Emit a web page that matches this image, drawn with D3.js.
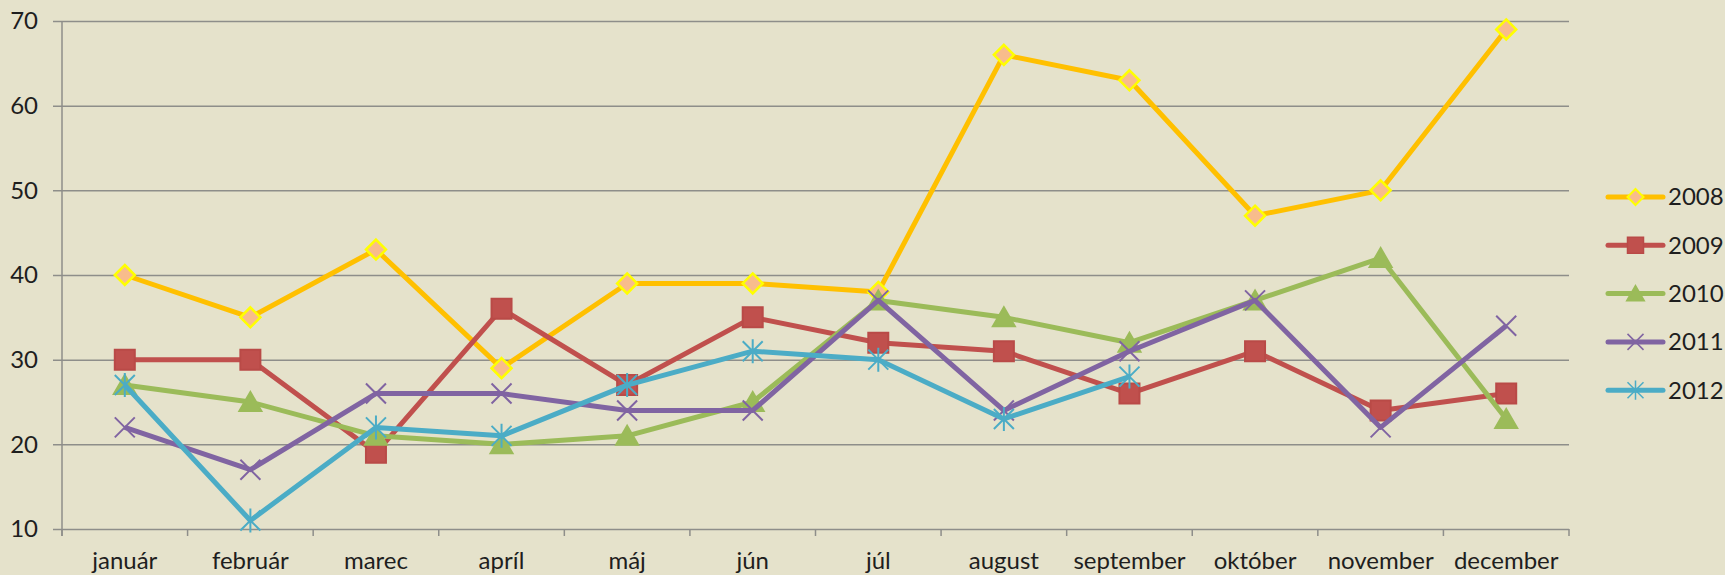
<!DOCTYPE html>
<html>
<head>
<meta charset="utf-8">
<script src="https://cdn.jsdelivr.net/npm/d3@7"></script>
<style>
  html, body { margin: 0; padding: 0; background: #e5e2cb; }
  svg { display: block; }
  .grid line { stroke: #8e8e8a; stroke-width: 1.5; }
  .grid text, .xaxis text, .legend text {
    fill: #1e1e1e; font-size: 24px; font-family: Lato, "Open Sans", sans-serif;
  }
</style>
</head>
<body>
<svg id="chart"></svg>
<script>
var months = ["január", "február", "marec", "apríl", "máj", "jún", "júl",
              "august", "september", "október", "november", "december"];
var years = ["2008", "2009", "2010", "2011", "2012"];
var yTicks = [10, 20, 30, 40, 50, 60, 70];

var v2008 = [40, 35, 43, 29, 39, 39, 38, 66, 63, 47, 50, 69];
var v2009 = [30, 30, 19, 36, 27, 35, 32, 31, 26, 31, 24, 26];
var v2010 = [27, 25, 21, 20, 21, 25, 37, 35, 32, 37, 42, 23];
var v2011 = [22, 17, 26, 26, 24, 24, 37, 24, 31, 37, 22, 34];
var v2012 = [27, 11, 22, 21, 27, 31, 30, 23, 28, null, null, null];

var seriesValues = [v2008, v2009, v2010, v2011, v2012];

// colours and marker kind per year (Office palette)
var styles = [
  {line: "#ffc000", marker: "diamond", fill: "#f8bc8c", stroke: "#ffff00"},
  {line: "#c0504d", marker: "square", fill: "#c0504d", stroke: "#b94a47"},
  {line: "#9bbb59", marker: "triangle", fill: "#9bbb59", stroke: "#9bbb59"},
  {line: "#8064a2", marker: "cross", fill: "none", stroke: "#8064a2"},
  {line: "#4bacc6", marker: "star", fill: "none", stroke: "#4bacc6"}
];

var W = 1725, H = 575;
var margin = {top: 21, right: 156, bottom: 46, left: 62};

var svg = d3.select("#chart").attr("width", W).attr("height", H);

var x = d3.scaleBand().domain(months).range([margin.left, W - margin.right]);
var y = d3.scaleLinear().domain([10, 70]).range([H - margin.bottom, margin.top]);

// marker shapes, r = half size in px
var markerPath = function(kind, r) {
  var p = d3.path();
  if (kind == "diamond") {
    p.moveTo(0, -r); p.lineTo(r, 0); p.lineTo(0, r); p.lineTo(-r, 0); p.closePath();
  } else if (kind == "square") {
    p.rect(-r, -r, 2 * r, 2 * r);
  } else if (kind == "triangle") {
    p.moveTo(0, -r); p.lineTo(r * 1.1, r * 0.9); p.lineTo(-r * 1.1, r * 0.9); p.closePath();
  } else if (kind == "cross") {
    p.moveTo(-r, -r); p.lineTo(r, r); p.moveTo(r, -r); p.lineTo(-r, r);
  } else {
    p.moveTo(-r, -r); p.lineTo(r, r); p.moveTo(r, -r); p.lineTo(-r, r);
    p.moveTo(0, -r * 1.2); p.lineTo(0, r * 1.2);
  }
  return p.toString();
};

// horizontal gridlines + y labels
var gridLeft = margin.left - 9;
svg.append("g")
  .attr("class", "grid")
  .attr("transform", "translate(" + gridLeft + ",0)")
  .call(d3.axisLeft(y).tickValues(yTicks)
        .tickSize(-(W - margin.right - gridLeft)).tickPadding(15))
  .call(function(g) { g.select(".domain").remove(); });

// y axis line
svg.append("line")
  .attr("x1", margin.left).attr("x2", margin.left)
  .attr("y1", y(70)).attr("y2", y(10) + 7)
  .attr("stroke", "#8e8e8a").attr("stroke-width", 1.5);

// x axis: labels centred in bands, ticks on band boundaries
var xg = svg.append("g")
  .attr("class", "xaxis")
  .attr("transform", "translate(0," + y(10) + ")")
  .call(d3.axisBottom(x).tickSize(0).tickPadding(23));
xg.select(".domain").remove();

var bounds = months.map(function(m) { return x(m); }).concat([x(months[11]) + x.bandwidth()]);
xg.selectAll("line.btick").data(bounds).enter().append("line")
  .attr("class", "btick")
  .attr("x1", function(d) { return d; }).attr("x2", function(d) { return d; })
  .attr("y1", 0).attr("y2", 7)
  .attr("stroke", "#8e8e8a").attr("stroke-width", 1.5);

var cx = function(d, i) { return x(months[i]) + x.bandwidth() / 2; };

var line = d3.line()
  .defined(function(d) { return d != null; })
  .x(cx)
  .y(function(d) { return y(d); });

years.forEach(function(yr, s) {
  var st = styles[s];
  var g = svg.append("g").attr("class", "series s" + yr);

  g.append("path")
    .datum(seriesValues[s])
    .attr("d", line)
    .attr("fill", "none")
    .attr("stroke", st.line)
    .attr("stroke-width", 5)
    .attr("stroke-linejoin", "round");

  var pts = seriesValues[s].map(function(v, i) { return {v: v, i: i}; })
    .filter(function(d) { return d.v != null; });

  g.selectAll("path.mk").data(pts).enter().append("path")
    .attr("class", "mk")
    .attr("transform", function(d) {
      return "translate(" + cx(d.v, d.i) + "," + y(d.v) + ")";
    })
    .attr("d", markerPath(st.marker, 10))
    .attr("fill", st.fill)
    .attr("stroke", st.stroke)
    .attr("stroke-width", st.marker == "diamond" ? 2.5 : 2);
});

// legend
var legend = svg.append("g").attr("class", "legend");
years.forEach(function(yr, s) {
  var st = styles[s];
  var ly = 197 + s * 48.3;
  var row = legend.append("g").attr("transform", "translate(1608," + ly + ")");
  row.append("line")
    .attr("x1", 0).attr("x2", 55).attr("y1", 0).attr("y2", 0)
    .attr("stroke", st.line).attr("stroke-width", 5)
    .attr("stroke-linecap", "round");
  row.append("path")
    .attr("transform", "translate(27.5,0)")
    .attr("d", markerPath(st.marker, 8))
    .attr("fill", st.fill)
    .attr("stroke", st.stroke)
    .attr("stroke-width", st.marker == "diamond" ? 2 : 1.5);
  row.append("text")
    .attr("x", 60).attr("y", 0).attr("dy", "0.35em")
    .text(yr);
});
</script>
</body>
</html>
